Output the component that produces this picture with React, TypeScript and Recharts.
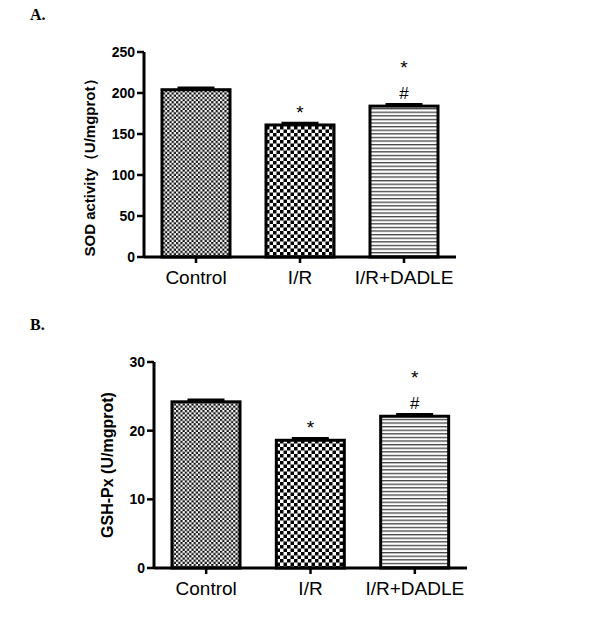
import React from 'react';
import { BarChart, Bar, XAxis, YAxis, Cell, LabelList } from 'recharts';

const categories = ['Control', 'I/R', 'I/R+DADLE'];
const sodValues = [204, 161, 184];
const sodErrors = [2, 2, 2];
const gshValues = [24.2, 18.6, 22.1];
const gshErrors = [0.25, 0.25, 0.25];
const starMarks = ['', '*', '*'];
const hashMarks = ['', '', '#'];
const sodTicks = [0, 50, 100, 150, 200, 250];
const gshTicks = [0, 10, 20, 30];

const sodData = categories.map((name, i) => ({ name, value: sodValues[i], err: sodErrors[i] }));
const gshData = categories.map((name, i) => ({ name, value: gshValues[i], err: gshErrors[i] }));

const SANS = '"Liberation Sans", Arial, sans-serif';
const SERIF = '"Liberation Serif", "Times New Roman", serif';

const Patterns = ({ prefix }: { prefix: string }) => (
  <defs>
    <pattern id={`${prefix}-ctrl`} patternUnits="userSpaceOnUse" width={4.4} height={4.4}>
      <rect x={0} y={0} width={4.4} height={4.4} fill="#fff" />
      <rect x={0} y={0} width={2.2} height={2.2} fill="#111" />
      <rect x={2.2} y={2.2} width={2.2} height={2.2} fill="#111" />
    </pattern>
    <pattern id={`${prefix}-ir`} patternUnits="userSpaceOnUse" width={7} height={7}>
      <rect x={0} y={0} width={7} height={7} fill="#fff" />
      <rect x={0} y={0} width={3.5} height={3.5} fill="#000" />
      <rect x={3.5} y={3.5} width={3.5} height={3.5} fill="#000" />
    </pattern>
    <pattern id={`${prefix}-dadle`} patternUnits="userSpaceOnUse" width={10} height={3.6}>
      <rect x={0} y={0} width={10} height={3.6} fill="#fff" />
      <rect x={0} y={0} width={10} height={1.3} fill="#444" />
    </pattern>
  </defs>
);

// Bar with its SEM cap; the cap offset comes from the bar's own scale (height / value)
const BarWithCap = (p: any) => {
  const { x, y, width, height, fill, payload } = p;
  const cx = x + width / 2;
  const pxPerUnit = payload && payload.value ? height / payload.value : 0;
  const capY = y - (payload ? payload.err : 0) * pxPerUnit;
  return (
    <g>
      <rect x={x} y={y} width={width} height={height} fill={fill} stroke="#000" strokeWidth={3} />
      <line x1={cx} x2={cx} y1={y} y2={capY} stroke="#000" strokeWidth={3} />
      <line x1={cx - 18.5} x2={cx + 18.5} y1={capY} y2={capY} stroke="#000" strokeWidth={3} />
    </g>
  );
};

const Marks = (p: any) => {
  const { x, y, width, index } = p;
  const cx = x + width / 2;
  const star = starMarks[index];
  const hash = hashMarks[index];
  return (
    <g>
      {hash ? (
        <text x={cx} y={y - 13 + 6} textAnchor="middle" fontSize={17} fontFamily={SANS} fill="#000">{hash}</text>
      ) : null}
      {star ? (
        <text x={cx} y={(hash ? y - 43 : y - 17) + 11} textAnchor="middle" fontSize={19} fontFamily={SANS} fill="#000">{star}</text>
      ) : null}
    </g>
  );
};

const axisLine = { stroke: '#000', strokeWidth: 3 };
const tickLine = { stroke: '#000', strokeWidth: 2.5 };

function Panel({ data, prefix, domain, ticks, width, height, margin, yWidth }: any) {
  const fills = [`url(#${prefix}-ctrl)`, `url(#${prefix}-ir)`, `url(#${prefix}-dadle)`];
  return (
    <BarChart width={width} height={height} data={data} margin={margin}>
      <Patterns prefix={prefix} />
      <XAxis
        dataKey="name"
        height={30}
        axisLine={axisLine}
        tickLine={tickLine}
        tickSize={6}
        tickMargin={8}
        tick={{ fontSize: 19, fill: '#000', fontFamily: SANS }}
        interval={0}
      />
      <YAxis
        width={yWidth}
        domain={domain}
        ticks={ticks}
        interval={0}
        axisLine={axisLine}
        tickLine={tickLine}
        tickSize={7}
        tickMargin={2}
        tick={{ fontSize: 14, fontWeight: 'bold', fill: '#000', fontFamily: SANS }}
      />
      <Bar dataKey="value" barSize={68} shape={BarWithCap} isAnimationActive={false}>
        {data.map((_: any, i: number) => (
          <Cell key={i} fill={fills[i]} />
        ))}
        <LabelList dataKey="value" content={(p: any) => <Marks {...p} />} />
      </Bar>
    </BarChart>
  );
}

export default function App() {
  return (
    <div style={{ position: 'absolute', left: 0, top: 0, width: 600, height: 617, background: '#fff' }}>
      <div style={{ position: 'absolute', left: 0, top: 0 }}>
        <Panel
          data={sodData}
          prefix="sod"
          domain={[0, 250]}
          ticks={sodTicks}
          width={600}
          height={300}
          margin={{ top: 52, right: 144, bottom: 13, left: 0 }}
          yWidth={144}
        />
      </div>
      <div style={{ position: 'absolute', left: 0, top: 300 }}>
        <Panel
          data={gshData}
          prefix="gsh"
          domain={[0, 30]}
          ticks={gshTicks}
          width={600}
          height={317}
          margin={{ top: 62, right: 133, bottom: 19, left: 0 }}
          yWidth={154}
        />
      </div>
      <svg width={600} height={617} style={{ position: 'absolute', left: 0, top: 0, pointerEvents: 'none' }}>
        <text x={30} y={20} fontSize={16} fontWeight="bold" fontFamily={SERIF} fill="#000">A.</text>
        <text x={30} y={330} fontSize={16} fontWeight="bold" fontFamily={SERIF} fill="#000">B.</text>
        <text
          x={95}
          y={164}
          transform="rotate(-90 95 164)"
          textAnchor="middle"
          fontSize={15}
          fontWeight="bold"
          fontFamily={SANS}
          fill="#000"
        >
          SOD activity（U/mgprot）
        </text>
        <text
          x={113}
          y={465}
          transform="rotate(-90 113 465)"
          textAnchor="middle"
          fontSize={16}
          fontWeight="bold"
          fontFamily={SANS}
          fill="#000"
        >
          GSH-Px (U/mgprot)
        </text>
      </svg>
    </div>
  );
}
